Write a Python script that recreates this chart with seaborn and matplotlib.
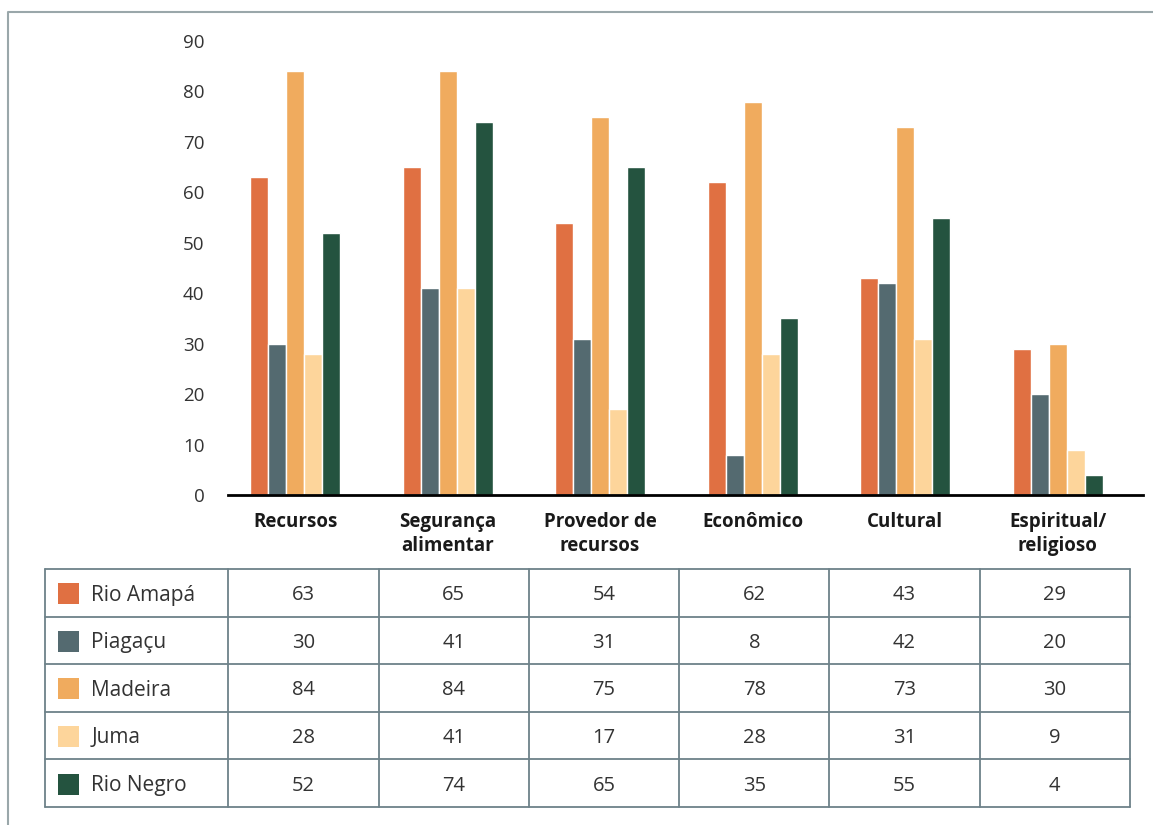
import numpy as np
import pandas as pd
import matplotlib.pyplot as plt
import seaborn as sns
from matplotlib.patches import Rectangle
from matplotlib.lines import Line2D

# Dados do gráfico
categorias = ['Recursos', 'Segurança\nalimentar', 'Provedor de\nrecursos',
              'Econômico', 'Cultural', 'Espiritual/\nreligioso']
locais = ['Rio Amapá', 'Piagaçu', 'Madeira', 'Juma', 'Rio Negro']
rio_amapa = [63, 65, 54, 62, 43, 29]
piagacu = [30, 41, 31, 8, 42, 20]
madeira = [84, 84, 75, 78, 73, 30]
juma = [28, 41, 17, 28, 31, 9]
rio_negro = [52, 74, 65, 35, 55, 4]
cores = ['#E07042', '#546A70', '#F0AB5E', '#FDD59B', '#24533F']

valores = [rio_amapa, piagacu, madeira, juma, rio_negro]

# DataFrame em formato longo
linhas = []
for local, serie in zip(locais, valores):
    for cat, v in zip(categorias, serie):
        linhas.append({'categoria': cat, 'local': local, 'valor': v})
df = pd.DataFrame(linhas)

sns.set_theme(style='white')
# Noto Sans qui non ha il grassetto, uso Open Sans
plt.rcParams['font.family'] = ['Open Sans', 'DejaVu Sans']

fig = plt.figure(figsize=(11.53, 8.25), dpi=100)

# Grafico de barras
ax = fig.add_axes([228 / 1153, 1 - 495 / 825, 915 / 1153, 454 / 825])
sns.barplot(data=df, x='categoria', y='valor', hue='local', order=categorias,
            hue_order=locais, palette=cores, saturation=1, width=0.59, gap=0,
            edgecolor='white', linewidth=1, legend=False, ax=ax)
ax.set_ylim(0, 90)
ax.set_xlim(-0.44, 5.56)
ax.set_yticks(range(0, 91, 10))
ax.set_xticks(range(len(categorias)), categorias, fontweight='bold',
              fontsize=13.5, color='#1a1a1a', linespacing=1.3)
ax.set_xlabel('')
ax.set_ylabel('')
for s in ['left', 'top', 'right']:
    ax.spines[s].set_visible(False)
ax.spines['bottom'].set_color('black')
ax.spines['bottom'].set_linewidth(2)
ax.tick_params(axis='y', length=0, pad=17, labelsize=13.5, labelcolor='#333333')
ax.tick_params(axis='x', length=0, pad=12)

# Tabela com os valores
tab = fig.add_axes([45 / 1153, 1 - 807 / 825, 1085 / 1153, 238 / 825])
larguras = [1.22] + [1.0] * len(categorias)
bordas = np.concatenate([[0], np.cumsum(larguras)])
tab.set_xlim(0, bordas[-1])
tab.set_ylim(len(locais), 0)
tab.axis('off')
cor_linha = '#6d8189'
for xb in bordas:
    tab.plot([xb, xb], [0, len(locais)], color=cor_linha, lw=1.3, clip_on=False)
for yb in range(len(locais) + 1):
    tab.plot([0, bordas[-1]], [yb, yb], color=cor_linha, lw=1.3, clip_on=False)

for i, (local, serie, cor) in enumerate(zip(locais, valores, cores)):
    tab.add_patch(Rectangle((0.087, i + 0.3), 0.14, 0.44, color=cor, lw=0))
    tab.text(0.307, i + 0.55, local, va='center', ha='left', fontsize=15,
             color='#333333')
    for j, v in enumerate(serie):
        cx = (bordas[j + 1] + bordas[j + 2]) / 2
        tab.text(cx, i + 0.55, str(v), va='center', ha='center', fontsize=14.5,
                 color='#333333')

# Moldura
fig.add_artist(Line2D([8 / 1153, 8 / 1153, 1], [0, 1 - 12 / 825, 1 - 12 / 825],
                      transform=fig.transFigure, color='#9aa7aa', lw=1.5))

plt.savefig('out.png', dpi=100)
